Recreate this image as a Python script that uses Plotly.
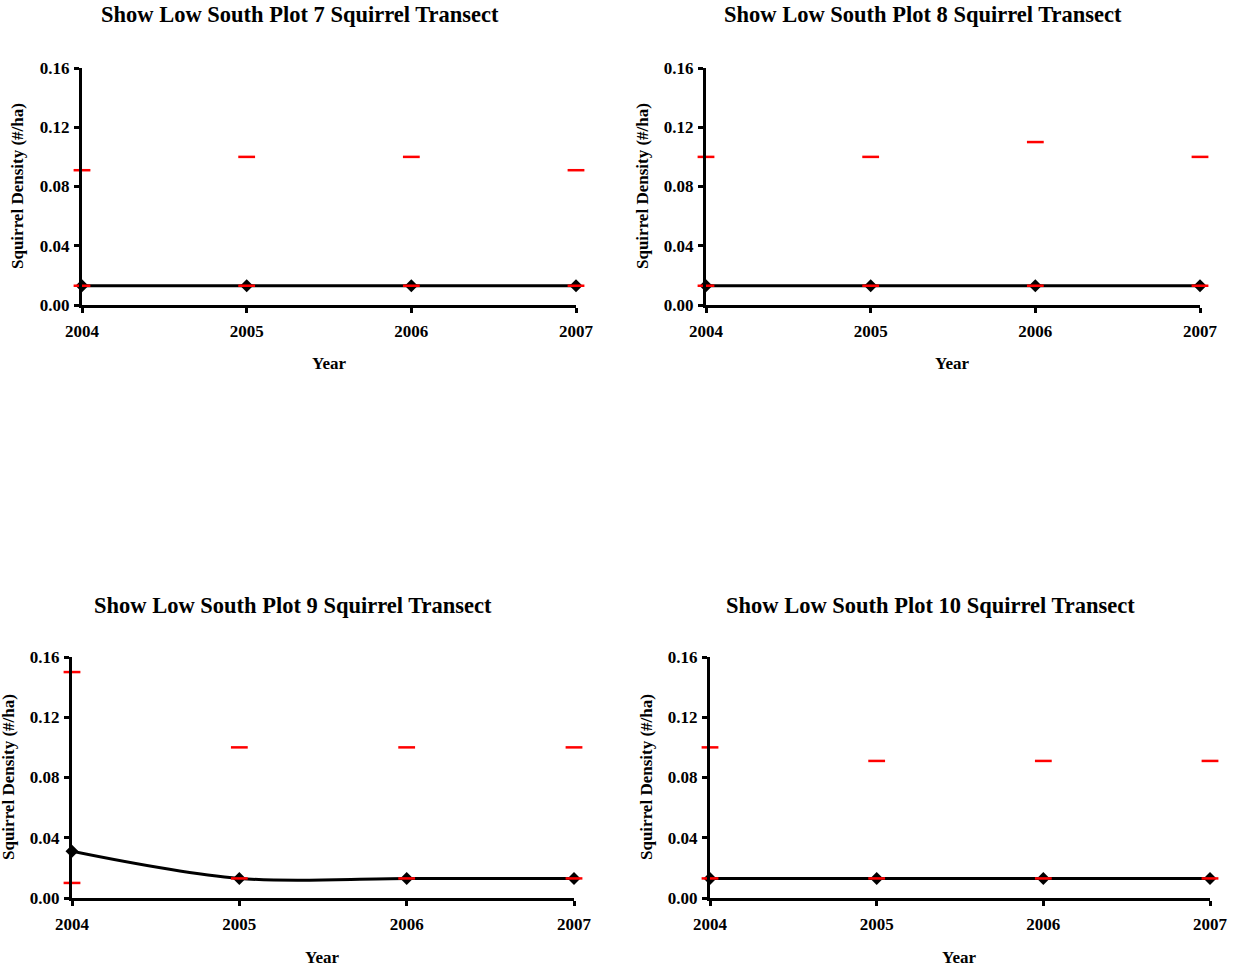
import plotly.graph_objects as go

W, H = 1233, 972

years = [2004, 2005, 2006, 2007]
titles = [
    "Show Low South Plot 7 Squirrel Transect",
    "Show Low South Plot 8 Squirrel Transect",
    "Show Low South Plot 9 Squirrel Transect",
    "Show Low South Plot 10 Squirrel Transect",
]
mean_p7 = [0.013, 0.013, 0.013, 0.013]
mean_p8 = [0.013, 0.013, 0.013, 0.013]
mean_p9 = [0.031, 0.013, 0.013, 0.013]
mean_p10 = [0.013, 0.013, 0.013, 0.013]
upper_p7 = [0.091, 0.10, 0.10, 0.091]
upper_p8 = [0.10, 0.10, 0.11, 0.10]
upper_p9 = [0.15, 0.10, 0.10, 0.10]
upper_p10 = [0.10, 0.091, 0.091, 0.091]
lower_p7 = [0.013, 0.013, 0.013, 0.013]
lower_p8 = [0.013, 0.013, 0.013, 0.013]
lower_p9 = [0.01, 0.013, 0.013, 0.013]
lower_p10 = [0.013, 0.013, 0.013, 0.013]
y_ticks = [0.00, 0.04, 0.08, 0.12, 0.16]

means = [mean_p7, mean_p8, mean_p9, mean_p10]
uppers = [upper_p7, upper_p8, upper_p9, upper_p10]
lowers = [lower_p7, lower_p8, lower_p9, lower_p10]

FONT = "Times New Roman, Liberation Serif, serif"

# panel pixel boxes: (left, right, top, bottom)
boxes = [
    (82, 576, 68, 305),
    (706, 1200, 68, 305),
    (72, 574, 657, 898),
    (710, 1210, 657, 898),
]
title_pos = [(300, 15), (923, 15), (293, 605), (930, 605)]
ytitle_pos = [(18, 186), (643, 186), (8, 777), (646, 777)]
xtitle_pos = [(329, 363), (952, 363), (322, 957), (959, 957)]

fig = go.Figure()
layout = dict(
    width=W, height=H, margin=dict(l=0, r=0, t=0, b=0, autoexpand=False),
    paper_bgcolor="white", plot_bgcolor="white", showlegend=False,
    font=dict(family=FONT, color="black"),
)
annotations = []
for i in range(4):
    n = "" if i == 0 else str(i + 1)
    l, r, t, b = boxes[i]
    layout["xaxis" + n] = dict(
        domain=[l / W, r / W], anchor="y" + n, range=[2004, 2007],
        tickvals=years, ticktext=[str(y) for y in years], automargin=False,
        showline=True, linewidth=3, linecolor="black", ticks="outside",
        ticklen=5, tickwidth=3, tickcolor="black", showgrid=False, zeroline=False,
        tickfont=dict(family=FONT, size=17, color="black", weight="bold"),
        ticklabelstandoff=4,
    )
    layout["yaxis" + n] = dict(
        domain=[1 - b / H, 1 - t / H], anchor="x" + n, range=[0, 0.16],
        tickvals=y_ticks, tickformat=".2f", automargin=False,
        showline=True, linewidth=3, linecolor="black", ticks="outside",
        ticklen=5, tickwidth=3, tickcolor="black", showgrid=False, zeroline=False,
        tickfont=dict(family=FONT, size=17, color="black", weight="bold"),
        ticklabelstandoff=1,
    )
    xa = "x" + n
    ya = "y" + n
    fig.add_trace(go.Scatter(
        x=years, y=means[i], xaxis=xa, yaxis=ya, mode="lines+markers",
        line=dict(color="black", width=3, shape="spline"),
        marker=dict(symbol="diamond", size=10, color="black"),
        cliponaxis=False,
    ))
    for arr in (uppers[i], lowers[i]):
        fig.add_trace(go.Scatter(
            x=years, y=arr, xaxis=xa, yaxis=ya, mode="markers",
            marker=dict(symbol="line-ew", size=12, line=dict(color="red", width=2.5)),
            cliponaxis=False,
        ))
    tx, ty = title_pos[i]
    annotations.append(dict(
        text="<b>%s</b>" % titles[i], x=tx / W, y=1 - ty / H, xref="paper", yref="paper",
        xanchor="center", yanchor="middle", showarrow=False,
        font=dict(family=FONT, size=22.5, color="black"),
    ))
    yx, yy = ytitle_pos[i]
    annotations.append(dict(
        text="<b>Squirrel Density (#/ha)</b>", x=yx / W, y=1 - yy / H, xref="paper", yref="paper",
        xanchor="center", yanchor="middle", showarrow=False, textangle=-90,
        font=dict(family=FONT, size=17, color="black"),
    ))
    xx, xy = xtitle_pos[i]
    annotations.append(dict(
        text="<b>Year</b>", x=xx / W, y=1 - xy / H, xref="paper", yref="paper",
        xanchor="center", yanchor="middle", showarrow=False,
        font=dict(family=FONT, size=17, color="black"),
    ))

layout["annotations"] = annotations
fig.update_layout(**layout)
fig.write_html("out.html")
